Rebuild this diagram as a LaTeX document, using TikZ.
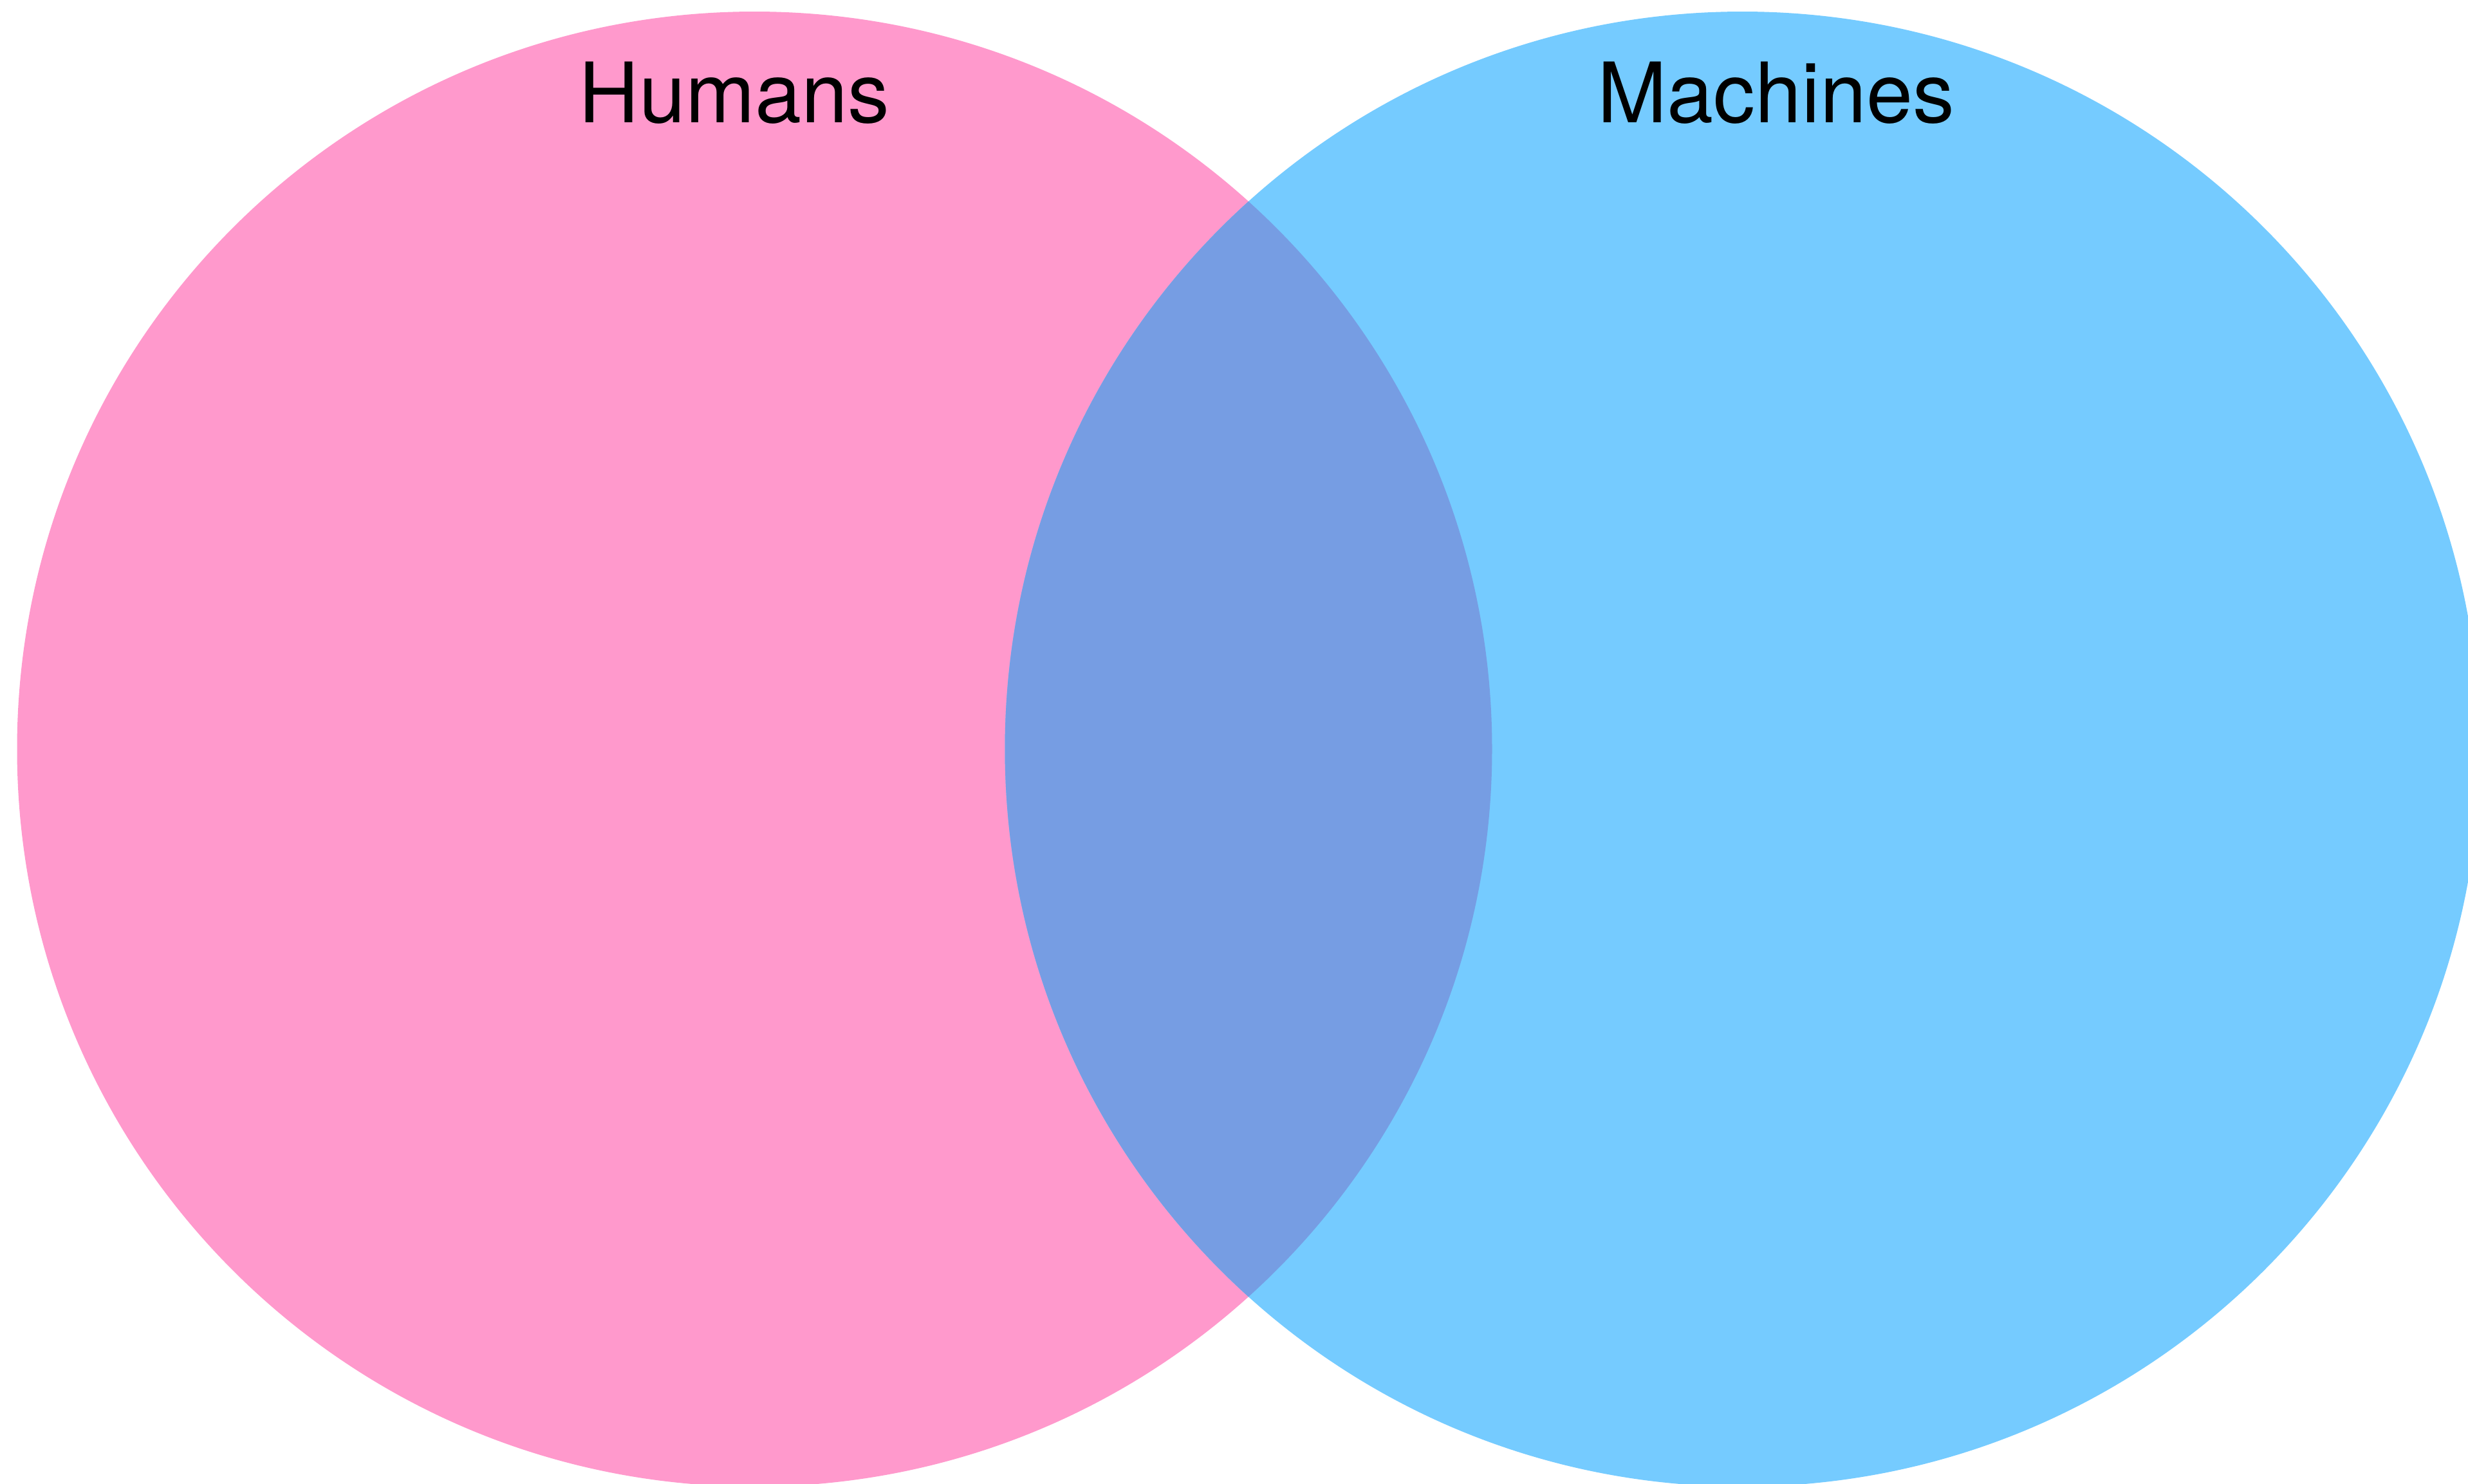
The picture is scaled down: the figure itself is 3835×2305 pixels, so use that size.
\documentclass[tikz,border=0pt]{standalone}
\usepackage{fontspec}
\setmainfont{TeX Gyre Heros}
\definecolor{hpink}{HTML}{FF99CC}
\definecolor{mblue}{HTML}{75CBFF}
\definecolor{ovl}{HTML}{769DE3}
\begin{document}
\begin{tikzpicture}[x=0.25pt,y=-0.25pt,
  setname/.style={anchor=base west, inner sep=0pt, font=\fontsize{32.4}{38}\selectfont}]
\useasboundingbox (0,0) rectangle (3835,2305);
\clip (0,0) rectangle (3835,2305);
\fill[hpink] (1172.5,1164) circle[radius=1146];
\fill[mblue] (2707.5,1164) circle[radius=1146];
\begin{scope}
\clip (1172.5,1164) circle[radius=1146];
\fill[ovl] (2707.5,1164) circle[radius=1146];
\end{scope}
\node[setname] (humans) at (899,190) {Humans};
\node[setname] (machines) at (2482,190) {Machines};
\end{tikzpicture}
\end{document}
